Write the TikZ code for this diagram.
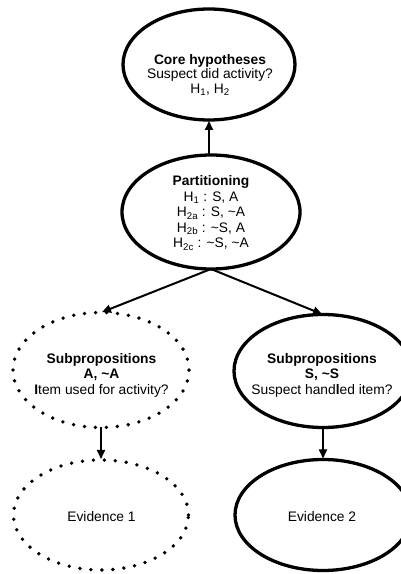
\documentclass[tikz,border=0pt]{standalone}
\usepackage{fontspec}
\setmainfont{Liberation Sans}
\usetikzlibrary{arrows.meta,shapes.geometric}
\begin{document}
\begin{tikzpicture}[x=1pt,y=1pt,
  bubble/.style={ellipse, draw, line width=3.3pt, inner sep=0pt, outer sep=0pt},
  dotbubble/.style={ellipse, draw, line width=3.8pt, line cap=round,
    dash pattern=on 0pt off 11pt, inner sep=0pt, outer sep=0pt},
  txt/.style={align=center, font=\fontsize{13.8}{15.5}\selectfont},
  arr/.style={line width=2pt, -{Triangle[length=9pt,width=8pt]}, shorten >=1pt}]
\useasboundingbox (0,0) rectangle (401,574);

% ellipses
\node[bubble, minimum width=172pt, minimum height=111pt] (core) at (209,509.5) {};
\node[bubble, minimum width=178pt, minimum height=114pt] (part) at (211,362) {};
\node[dotbubble, minimum width=176pt, minimum height=115pt] (subA) at (101,204) {};
\node[bubble, minimum width=178pt, minimum height=113pt] (subS) at (323,203) {};
\node[dotbubble, minimum width=175pt, minimum height=110pt] (ev1) at (101,59) {};
\node[bubble, minimum width=176pt, minimum height=111pt] (ev2) at (323,59) {};

% labels
\node[txt, font=\fontsize{13.8}{14.2}\selectfont] (coretxt) at (210,499)
  {\textbf{Core hypotheses}\\Suspect did activity?\\H\textsubscript{1}, H\textsubscript{2}};
\node[txt] (parttxt) at (211,361)
  {\textbf{Partitioning}\\
   H\textsubscript{1} : S, A\\
   H\textsubscript{2a} : S, \textasciitilde A\\
   H\textsubscript{2b} : \textasciitilde S, A\\
   H\textsubscript{2c} : \textasciitilde S, \textasciitilde A};
\node[txt] (subAtxt) at (101.5,199)
  {\textbf{Subpropositions}\\\textbf{A, \textasciitilde A}\\\textbf{I}tem used for activity?};
\node[txt] (subStxt) at (322,199)
  {\textbf{Subpropositions}\\\textbf{S, \textasciitilde S}\\Suspect hand\textbf{l}ed item?};
\node[txt] (ev1txt) at (101.5,57) {Evidence 1};
\node[txt] (ev2txt) at (322,57) {Evidence 2};

% connectors
\draw[arr] (part.north -| core) -- (core.south);
\draw[arr] (part.south) -- (subA.north);
\draw[arr] (part.south) -- (subS.north);
\draw[arr] (subA.south) -- (ev1.north);
\draw[arr] (subS.south) -- (ev2.north);
\end{tikzpicture}
\end{document}
